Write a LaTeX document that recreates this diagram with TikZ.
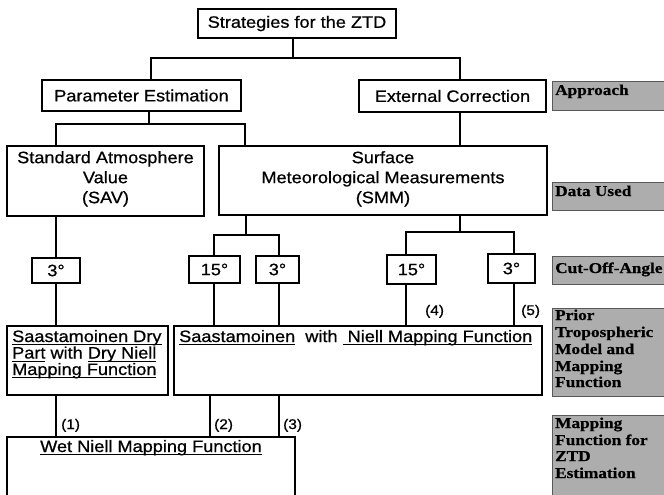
\documentclass[tikz,border=0pt]{standalone}
\usepackage{fontspec}
\setmainfont{Liberation Sans}[FakeStretch=1.1,FakeBold=0.7]
\newfontfamily\lblfont{Liberation Serif}[FakeStretch=1.15,FakeBold=0.6]
\newsavebox\ulbox
\newcommand\myul[1]{\sbox\ulbox{#1}\rlap{\vrule width\wd\ulbox height -2.1pt depth 3.1pt}\usebox\ulbox}
\newcommand\rbox[7]{\node[#2, minimum width={(#5-#3)*1pt}, minimum height={(#6-#4)*1pt}] (#1) at ({(#3+#5)/2},{(#4+#6)/2}) {#7};}
\begin{document}
\begin{tikzpicture}[x=1pt,y=-1pt,
  font=\fontsize{16.5}{20}\selectfont,
  box/.style={draw,line width=1.4pt,inner sep=0pt,align=center},
  conn/.style={line width=1.3pt},
  txt/.style={inner sep=0pt},
  num/.style={inner sep=0pt,anchor=base west,font=\fontsize{14}{16}\selectfont},
  lbl/.style={draw=black!65,line width=0.8pt,fill=black!32,inner sep=0pt},
  lbltxt/.style={inner sep=0pt,anchor=base west,font=\lblfont\bfseries\fontsize{15}{16.7}\selectfont}]
\useasboundingbox (0,0) rectangle (664,495);
\clip (0,0) rectangle (664,495);
\fill[white] (0,0) rectangle (664,495);
% boxes
\rbox{top}{box}{198}{9}{396}{38}{Strategies for the ZTD}
\rbox{pe}{box}{42}{80}{241}{111}{Parameter Estimation}
\rbox{ec}{box}{359}{80}{546}{112}{External Correction}
\rbox{sav}{box}{7}{146}{204}{216}{}
\rbox{smm}{box}{219}{146}{547}{215}{}
\node[txt,anchor=north,align=center] (savt) at (105.5,151) {Standard Atmosphere\\Value\\(SAV)};
\node[txt,anchor=north,align=center] (smmt) at (383,151) {Surface\\Meteorological Measurements\\(SMM)};
\rbox{a1}{box}{32}{258}{80}{283}{3°}
\rbox{b1}{box}{189}{256}{240}{283}{15°}
\rbox{b2}{box}{256}{256}{299}{283}{3°}
\rbox{c1}{box}{387}{255}{436}{284}{15°}
\rbox{c2}{box}{488}{254}{535}{283}{3°}
\rbox{dry}{box}{7}{326}{168}{395}{}
\rbox{ni}{box}{174}{326}{542}{395}{}
\rbox{wet}{box}{7}{437}{295}{520}{}
\node[txt,anchor=base west] (dry1) at (12,342) {\myul{Saastamoinen Dry}};
\node[txt,anchor=base west] (dry2) at (12,358.5) {\myul{Part} with \myul{Dry Niell}};
\node[txt,anchor=base west] (dry3) at (12,375) {\myul{Mapping Function}};
\node[txt,anchor=base west] (nit) at (179,342) {\myul{Saastamoinen}\ \ with \myul{\ Niell Mapping Function}};
\node[txt,anchor=base] (wett) at (151,452) {\myul{Wet Niell Mapping Function}};
% connectors
\coordinate (j0) at (293,58); \coordinate (jL) at (151,58); \coordinate (jR) at (460,58);
\draw[conn] (top.south -| j0) -- (j0);
\draw[conn] (pe.north -| jL) -- (jL) -- (jR) -- (ec.north -| jR);
\coordinate (k0) at (149,124); \coordinate (kL) at (56,124); \coordinate (kR) at (245,124);
\draw[conn] (pe.south -| k0) -- (k0);
\draw[conn] (sav.north -| kL) -- (kL) -- (kR) -- (smm.north -| kR);
\draw[conn] (ec.south -| jR) -- (smm.north -| jR);
\draw[conn] (sav.south -| a1.north) -- (a1.north);
\draw[conn] (a1.south) -- (dry.north -| a1.south);
\coordinate (m0) at (246,235); \coordinate (mL) at (214,235); \coordinate (mR) at (279,235);
\draw[conn] (smm.south -| m0) -- (m0);
\draw[conn] (b1.north -| mL) -- (mL) -- (mR) -- (b2.north -| mR);
\coordinate (n0) at (460,232); \coordinate (nL) at (406,232); \coordinate (nR) at (514,232);
\draw[conn] (smm.south -| n0) -- (n0);
\draw[conn] (c1.north -| nL) -- (nL) -- (nR) -- (c2.north -| nR);
\draw[conn] (b1.south -| mL) -- (ni.north -| mL);
\draw[conn] (b2.south -| mR) -- (ni.north -| mR);
\draw[conn] (c1.south -| nL) -- (ni.north -| nL);
\draw[conn] (c2.south -| nR) -- (ni.north -| nR);
\node[num] (l4) at (425,315) {(4)};
\node[num] (l5) at (521,315) {(5)};
\draw[conn] (dry.south -| a1.south) -- (wet.north -| a1.south);
\coordinate (p2) at (210,416);
\draw[conn] (ni.south -| p2) -- (wet.north -| p2);
\draw[conn] (ni.south -| mR) -- (wet.north -| mR);
\node[num] (l1) at (61,429) {(1)};
\node[num] (l2) at (214,429) {(2)};
\node[num] (l3) at (283,429) {(3)};
% side labels
\rbox{g1}{lbl}{552}{81}{670}{110}{}
\rbox{g2}{lbl}{552}{182}{670}{210}{}
\rbox{g3}{lbl}{552}{256}{670}{284}{}
\rbox{g4}{lbl}{552}{308}{670}{396}{}
\rbox{g5}{lbl}{552}{415}{670}{505}{}
\node[lbltxt] (t1) at (555,95) {Approach};
\node[lbltxt] (t2) at (555,196) {Data Used};
\node[lbltxt] (t3) at (555,273) {Cut-Off-Angle};
\node[lbltxt] (t4a) at (555,320) {Prior};
\node[lbltxt] (t4b) at (555,337) {Tropospheric};
\node[lbltxt] (t4c) at (555,354) {Model and};
\node[lbltxt] (t4d) at (555,371) {Mapping};
\node[lbltxt] (t4e) at (555,387) {Function};
\node[lbltxt] (t5a) at (555,428) {Mapping};
\node[lbltxt] (t5b) at (555,445) {Function for};
\node[lbltxt] (t5c) at (555,461) {ZTD};
\node[lbltxt] (t5d) at (555,478) {Estimation};
\end{tikzpicture}
\end{document}
